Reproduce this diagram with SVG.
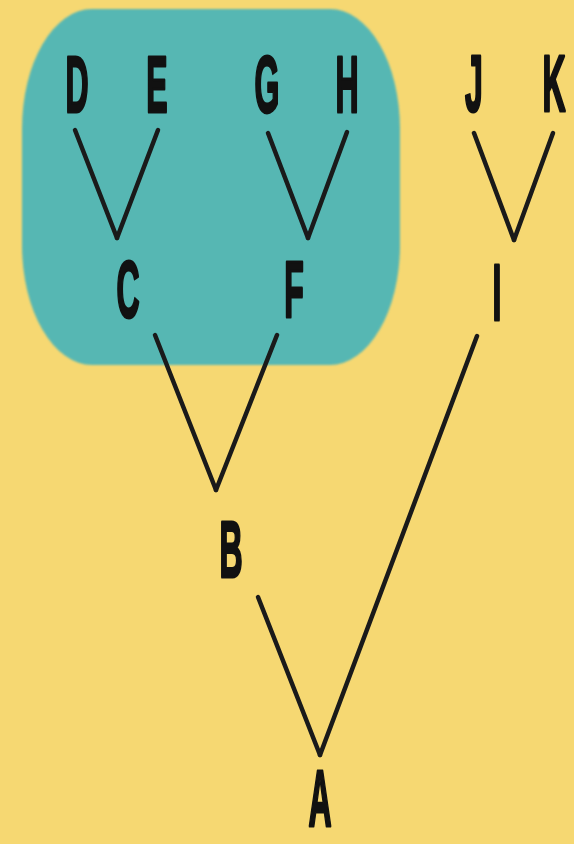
<svg xmlns="http://www.w3.org/2000/svg" width="574" height="844" viewBox="0 0 574 844">
<style>
.lbl{font-family:"Liberation Sans",Arial,sans-serif;font-weight:bold;font-size:80px;fill:#111;stroke:#111;stroke-width:3;stroke-linejoin:round;text-anchor:middle}
.edge{stroke:#1a1a1a;stroke-width:4.5;stroke-linecap:round;fill:none}
</style>
<defs>
<filter id="soft" x="-5%" y="-5%" width="110%" height="110%"><feGaussianBlur stdDeviation="1.2"/></filter>
</defs>
<rect width="574" height="844" fill="#F6D872"/>
<rect id="clade" x="22" y="9" width="378" height="356" rx="70" ry="120" fill="#57B7B3" filter="url(#soft)"/>
<g id="connectors">
<line class="edge" x1="75" y1="130" x2="117" y2="238"/>
<line class="edge" x1="158" y1="130" x2="117" y2="238"/>
<line class="edge" x1="268" y1="133" x2="308" y2="238"/>
<line class="edge" x1="347" y1="132" x2="308" y2="238"/>
<line class="edge" x1="474" y1="133" x2="514" y2="240"/>
<line class="edge" x1="553" y1="133" x2="514" y2="240"/>
<line class="edge" x1="155" y1="335" x2="216" y2="490"/>
<line class="edge" x1="277" y1="335" x2="216" y2="490"/>
<line class="edge" x1="258" y1="597" x2="320" y2="755"/>
<line class="edge" x1="477" y1="336" x2="320" y2="755"/>
</g>
<g id="node-D"><text class="lbl" transform="translate(77,112) scale(0.4,1)">D</text></g>
<g id="node-E"><text class="lbl" transform="translate(157,112) scale(0.4,1)">E</text></g>
<g id="node-G"><text class="lbl" transform="translate(267,112) scale(0.4,1)">G</text></g>
<g id="node-H"><text class="lbl" transform="translate(347,112) scale(0.4,1)">H</text></g>
<g id="node-J"><text class="lbl" transform="translate(474,111) scale(0.4,1)">J</text></g>
<g id="node-K"><text class="lbl" transform="translate(554,111) scale(0.4,1)">K</text></g>
<g id="node-C"><text class="lbl" transform="translate(128,317) scale(0.4,1)">C</text></g>
<g id="node-F"><text class="lbl" transform="translate(294,317) scale(0.4,1)">F</text></g>
<g id="node-I"><text class="lbl" transform="translate(497,320) scale(0.4,1)">I</text></g>
<g id="node-B"><text class="lbl" transform="translate(231,577) scale(0.4,1)">B</text></g>
<g id="node-A"><text class="lbl" transform="translate(320,826) scale(0.4,1)">A</text></g>
</svg>
